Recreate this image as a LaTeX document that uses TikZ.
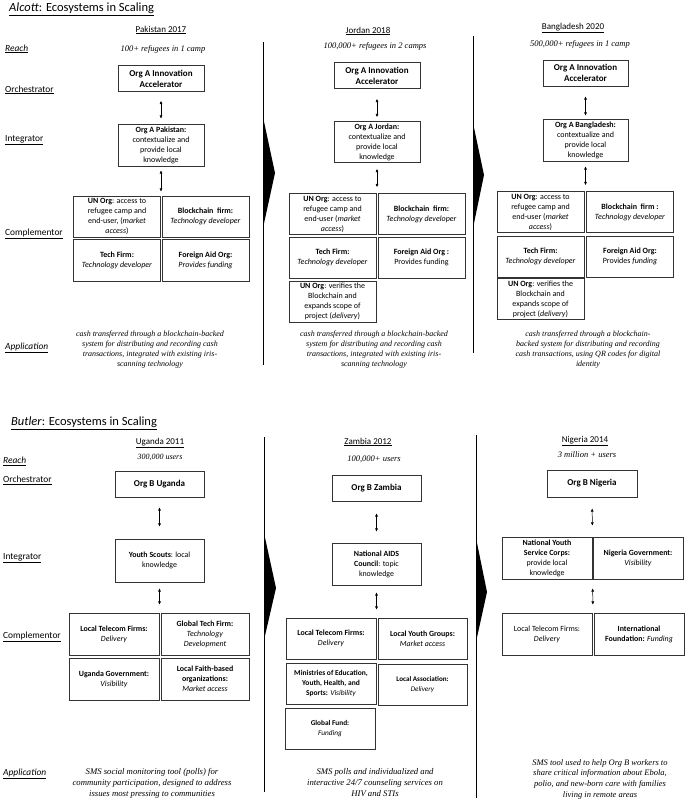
\documentclass[tikz,border=0pt]{standalone}
\usepackage{fontspec}
\setmainfont{Carlito}
\newfontfamily\appfont{Liberation Serif}
\usepackage{tikz}
\usetikzlibrary{arrows.meta,calc}

\begin{document}
\begin{tikzpicture}[
  x=1pt, y=-1pt,
  cell/.style={draw=black!80, line width=0.8pt, align=center, inner sep=1pt,
               minimum width=87pt, minimum height=41pt, font=\fontsize{8}{10}\selectfont},
  lead/.style={cell, minimum height=26pt, font=\bfseries\fontsize{9}{11}\selectfont},
  lowcell/.style={cell, minimum width=89pt, minimum height=42pt, font=\fontsize{7.9}{10}\selectfont},
  rowlab/.style={anchor=west, inner sep=0pt, font=\fontsize{9.4}{11}\selectfont},
  head/.style={inner sep=0pt, font=\fontsize{9}{11}\selectfont},
  reach/.style={inner sep=0pt, font=\appfont\itshape\fontsize{8.5}{10}\selectfont},
  apptxt/.style={align=center, inner sep=0pt, font=\appfont\itshape\fontsize{8}{10}\selectfont},
  arr/.style={{Latex[length=3.2pt,width=3pt]}-{Latex[length=3.2pt,width=3pt]}, line width=0.5pt},
  divider/.style={line width=0.9pt}
]
\useasboundingbox (0,0) rectangle (685,805);

% ---------------- Alcott ----------------
\node[anchor=west, inner sep=0pt, font=\fontsize{12.5}{14}\selectfont] (ttlA) at (9,9) {\underline{\textit{Alcott}: Ecosystems in Scaling}};
\node[rowlab] (reachA) at (5,49) {\underline{\textit{Reach}}};
\node[rowlab] (orchA) at (5,90) {\underline{Orchestrator}};
\node[rowlab] (integA) at (5,140) {\underline{Integrator}};
\node[rowlab] (complA) at (5,234) {\underline{Complementor}};
\node[rowlab] (applA) at (5,348) {\underline{\textit{Application}}};

\node[head] (pkH) at (161,30) {\underline{Pakistan 2017}};
\node[reach] (pkR) at (163,49) {100+ refugees in 1 camp};
\node[lead, minimum width=86pt] (pkO) at (161,78.5) {Org A Innovation\\Accelerator};
\node[cell, minimum width=86pt, minimum height=42pt] (pkI) at (161,145) {\textbf{Org A Pakistan:}\\contextualize and\\provide local\\knowledge};
\node[cell] (pkA) at (117,216.5) {\textbf{UN Org}: access to\\refugee camp and\\end-user, (\textit{market}\\\textit{access})};
\node[cell] (pkB) at (205.5,216.5) {\textbf{Blockchain\ \ firm:}\\\textit{Technology developer}};
\node[cell, minimum height=42pt] (pkC) at (117,260) {\textbf{Tech Firm:}\\\textit{Technology developer}};
\node[cell, minimum height=42pt] (pkD) at (205.5,260) {\textbf{Foreign Aid Org:}\\\textit{Provides funding}};
\node[apptxt] (pkApp) at (150,350) {cash transferred through a blockchain-backed\\system for distributing and recording cash\\transactions, integrated with existing iris-\\scanning technology};
\draw[arr, shorten <=9pt, shorten >=5pt] (pkO) -- (pkI);
\draw[arr, shorten <=4pt, shorten >=4pt] (pkI.south) -- (pkI.south |- pkA.north);

\node[head] (joH) at (368,31) {\underline{Jordan 2018}};
\node[reach] (joR) at (375,46) {100,000+ refugees in 2 camps};
\node[lead, minimum width=86pt] (joO) at (377,75.5) {Org A Innovation\\Accelerator};
\node[cell, minimum width=86pt] (joI) at (377,142) {\textbf{Org A Jordan:}\\contextualize and\\provide local\\knowledge};
\node[cell] (joA) at (332.5,214) {\textbf{UN Org}: access to\\refugee camp and\\end-user (\textit{market}\\\textit{access})};
\node[cell] (joB) at (421.5,214) {\textbf{Blockchain\ \ firm:}\\\textit{Technology developer}};
\node[cell] (joC) at (332.5,257.5) {\textbf{Tech Firm:}\\\textit{Technology developer}};
\node[cell] (joD) at (421.5,257.5) {\textbf{Foreign Aid Org :}\\Provides funding};
\node[cell] (joE) at (332.5,301.5) {\textbf{UN Org}: verifies the\\Blockchain and\\expands scope of\\project (\textit{delivery})};
\node[apptxt] (joApp) at (374,350) {cash transferred through a blockchain-backed\\system for distributing and recording cash\\transactions, integrated with existing iris-\\scanning technology};
\draw[arr, shorten <=10pt, shorten >=4pt] (joO) -- (joI);
\draw[arr, shorten <=6pt, shorten >=6pt] (joI) -- (joI |- joA.north);

\node[head] (bdH) at (573,28) {\underline{Bangladesh 2020}};
\node[reach] (bdR) at (580,44) {500,000+ refugees in 1 camp};
\node[lead, minimum width=85pt] (bdO) at (585.5,73) {Org A Innovation\\Accelerator};
\node[cell, minimum width=85pt, minimum height=42pt] (bdI) at (585.5,140) {\textbf{Org A Bangladesh:}\\contextualize and\\provide local\\knowledge};
\node[cell] (bdA) at (540.5,212) {\textbf{UN Org}: access to\\refugee camp and\\end-user (\textit{market}\\\textit{access})};
\node[cell] (bdB) at (630,212) {\textbf{Blockchain\ \ firm :}\\\textit{Technology developer}};
\node[cell] (bdC) at (540.5,256.5) {\textbf{Tech Firm:}\\\textit{Technology developer}};
\node[cell] (bdD) at (630,256.5) {\textbf{Foreign Aid Org:}\\Provides \textit{funding}};
\node[cell] (bdE) at (540.5,299) {\textbf{UN Org}: verifies the\\Blockchain and\\expands scope of\\project (\textit{delivery})};
\node[apptxt] (bdApp) at (588,350) {cash transferred through a blockchain-\\backed system for distributing and recording\\cash transactions, using QR codes for digital\\identity};
\draw[arr, shorten <=10pt, shorten >=3pt] (bdO) -- (bdI);
\draw[arr, shorten <=5pt, shorten >=6pt] (bdI) -- (bdI |- bdA.north);

\draw[divider] (263,42) -- (263,365);
\draw[divider] (473,36) -- (473,353);
\fill (263,117) -- (275,173) -- (263,228) -- cycle;
\fill (473,123) -- (484,175) -- (473,228) -- cycle;

% ---------------- Butler ----------------
\node[anchor=west, inner sep=0pt, font=\fontsize{12.5}{14}\selectfont] (ttlB) at (11,423) {\underline{\textit{Butler}: Ecosystems in Scaling}};
\node[rowlab] (reachB) at (3,461) {\underline{\textit{Reach}}};
\node[rowlab] (orchB) at (3,480) {\underline{Orchestrator}};
\node[rowlab] (integB) at (3,558) {\underline{Integrator}};
\node[rowlab] (complB) at (3,637) {\underline{Complementor}};
\node[rowlab] (applB) at (3,774) {\underline{\textit{Application}}};

\node[head] (ugH) at (160,443) {\underline{Uganda 2011}};
\node[reach, font=\appfont\itshape\fontsize{8}{10}\selectfont] (ugR) at (160,457) {300,000 users};
\node[lead, minimum width=89pt] (ugO) at (159.5,484) {Org B Uganda};
\node[lowcell, minimum height=43pt] (ugI) at (159.5,560.5) {\textbf{Youth Scouts}: local\\knowledge};
\node[lowcell, minimum width=90pt] (ugA) at (114,634) {\textbf{Local Telecom Firms:}\\\textit{Delivery}};
\node[lowcell, minimum width=88pt] (ugB) at (205,634) {\textbf{Global Tech Firm:}\\\textit{Technology}\\\textit{Development}};
\node[lowcell, minimum width=90pt] (ugC) at (114,679) {\textbf{Uganda Government:}\\\textit{Visibility}};
\node[lowcell, minimum width=88pt] (ugD) at (205,679) {\textbf{Local Faith-based}\\\textbf{organizations:}\\\textit{Market access}};
\node[apptxt, font=\appfont\itshape\fontsize{8.7}{11}\selectfont] (ugApp) at (152,783) {SMS social monitoring tool (polls)\ for\\community participation, designed to address\\issues most pressing to communities};
\draw[arr, shorten <=10pt, shorten >=12pt] (ugO) -- (ugI);
\draw[arr, shorten <=6pt, shorten >=8pt] (ugI) -- (ugI |- ugA.north);

\node[head] (zaH) at (368,442) {\underline{Zambia 2012}};
\node[reach] (zaR) at (374,459) {100,000+ users};
\node[lead, minimum width=89pt] (zaO) at (376.5,488) {Org B Zambia};
\node[lowcell] (zaI) at (376.5,564) {\textbf{National AIDS}\\\textbf{Council}: topic\\knowledge};
\node[lowcell, minimum width=90pt, minimum height=41pt] (zaA) at (331,638.5) {\textbf{Local Telecom Firms:}\\\textit{Delivery}};
\node[lowcell, minimum height=41pt] (zaB) at (422.5,638.5) {\textbf{Local Youth Groups:}\\\textit{Market access}};
\node[lowcell, minimum width=90pt, minimum height=41pt, font=\fontsize{7.5}{10}\selectfont] (zaC) at (331,683.5) {\textbf{Ministries of Education,}\\\textbf{Youth, Health, and}\\\textbf{Sports:} \textit{Visibility}};
\node[lowcell, minimum height=41pt, font=\fontsize{7.1}{9.5}\selectfont] (zaD) at (422.5,684.5) {\textbf{Local Association:}\\\textit{Delivery}};
\node[lowcell, minimum width=90pt, minimum height=41pt, font=\fontsize{7.3}{10}\selectfont] (zaE) at (330,728.5) {\textbf{Global Fund:}\\\textit{Funding}};
\node[apptxt, font=\appfont\itshape\fontsize{8.7}{11}\selectfont] (zaApp) at (375,783) {SMS polls and individualized and\\interactive 24/7 counseling services on\\HIV and STIs};
\draw[arr, shorten <=12pt, shorten >=11pt] (zaO) -- (zaI);
\draw[arr, shorten <=7pt, shorten >=8pt] (zaI) -- (zaI |- zaA.north);

\node[head] (ngH) at (585,441) {\underline{Nigeria 2014}};
\node[reach] (ngR) at (587,455) {3 million + users};
\node[lead, minimum width=90pt, minimum height=27pt] (ngO) at (592,483.5) {Org B Nigeria};
\node[lowcell, minimum width=90pt] (ngIa) at (547,558) {\textbf{National Youth}\\\textbf{Service Corps:}\\provide local\\knowledge};
\node[lowcell, minimum width=90pt] (ngIb) at (638,558) {\textbf{Nigeria Government:}\\\textit{Visibility}};
\node[lowcell, minimum width=90pt] (ngA) at (547,634) {Local Telecom Firms:\\\textit{Delivery}};
\node[lowcell, minimum width=90pt] (ngB) at (639,634) {\textbf{International}\\\textbf{Foundation:} \textit{Funding}};
\node[apptxt, font=\appfont\itshape\fontsize{8.5}{10.7}\selectfont] (ngApp) at (600,779) {SMS tool used to help Org B workers to\\share critical information about Ebola,\\polio, and new-born care with families\\living in remote areas};
\draw[arr, shorten <=11pt, shorten >=11pt] (ngO.south) -- ($(ngIa.north east)!.5!(ngIb.north west)$);
\draw[arr, shorten <=9pt, shorten >=8pt] ($(ngIa.south east)!.5!(ngIb.south west)$) -- ($(ngA.north east)!.5!(ngB.north west)$);

\draw[divider] (264,437) -- (264,792);
\draw[divider] (476,435) -- (476,798);
\fill (264,533) -- (276,588) -- (264,640) -- cycle;
\fill (476,538) -- (487,592) -- (476,642) -- cycle;
\end{tikzpicture}
\end{document}
